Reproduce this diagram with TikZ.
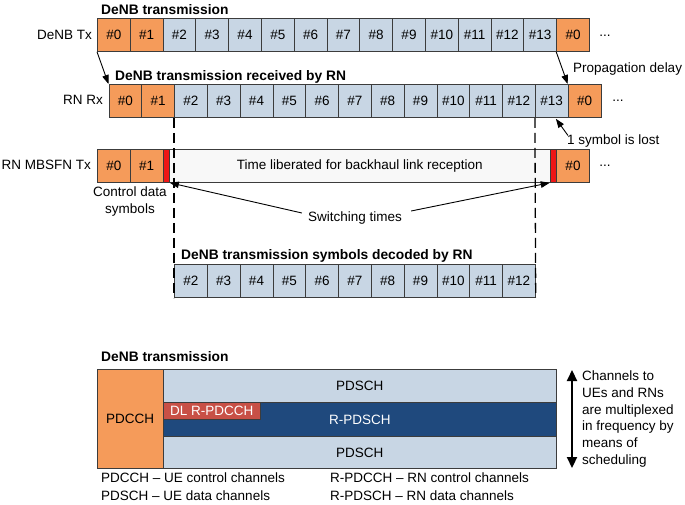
\documentclass[tikz,border=0pt]{standalone}
\usepackage{fontspec}
\setmainfont{Liberation Sans}
\usetikzlibrary{arrows.meta,calc}
\definecolor{corange}{RGB}{245,155,90}
\definecolor{cblue}{RGB}{200,214,228}
\definecolor{cdark}{RGB}{31,73,125}
\definecolor{cred}{RGB}{238,22,22}
\definecolor{cdlred}{RGB}{200,80,70}
\definecolor{cwhite}{RGB}{248,248,248}
\definecolor{cborder}{RGB}{60,60,60}
\begin{document}
\begin{tikzpicture}[x=1pt,y=-1pt,
  every node/.style={font=\fontsize{13.5}{16.8}\selectfont, inner sep=0pt},
  cell/.style={draw=cborder, line width=0.8pt, minimum width=32.8pt, minimum height=33pt, anchor=north west},
  bar/.style={draw=cborder, line width=0.8pt, anchor=north west, minimum height=33pt},
  title/.style={font=\fontsize{13.8}{16.8}\selectfont\bfseries, anchor=west},
  lbl/.style={anchor=east},
  dashline/.style={line width=1.3pt, dash pattern=on 10pt off 5pt},
  arr/.style={-{Triangle[length=9pt,width=6.5pt]}, line width=0.9pt},
  band/.style={draw=cborder, line width=0.8pt, anchor=north west, minimum width=393.6pt}]
\useasboundingbox (0,0) rectangle (685,504);

% titles and row labels
\node[title] (t1) at (101,10) {DeNB transmission};
\node[title] (t2) at (115,76.5) {DeNB transmission received by RN};
\node[title] (t3) at (181,256) {DeNB transmission symbols decoded by RN};
\node[lbl] (l1) at (92,35) {DeNB Tx};
\node[lbl] (l2) at (103,100) {RN Rx};
\node[lbl] (l3) at (91,165) {RN MBSFN Tx};

% DeNB Tx row
\foreach \l [count=\i from 0] in {0,1,2,3,4,5,6,7,8,9,10,11,12,13,0} {
  \ifnum\i<2 \def\cf{corange}\else\ifnum\i=14 \def\cf{corange}\else\def\cf{cblue}\fi\fi
  \node[cell, fill=\cf] (tx\i) at ({97+\i*32.8},18) {\#\l};
}
% RN Rx row
\foreach \l [count=\i from 0] in {0,1,2,3,4,5,6,7,8,9,10,11,12,13,0} {
  \ifnum\i<2 \def\cf{corange}\else\ifnum\i=14 \def\cf{corange}\else\def\cf{cblue}\fi\fi
  \node[cell, fill=\cf] (rx\i) at ({108.5+\i*32.8},84) {\#\l};
}
\node (d1) at (605,36) {...};
\node (d2) at (618,101) {...};

% RN MBSFN Tx row
\node[cell, fill=corange] (mb0) at (97,149) {\#0};
\node[cell, fill=corange] (mb1) at (129.8,149) {\#1};
\node[bar, fill=cred, minimum width=6.5pt] (rs1) at (162.6,149) {};
\node[bar, fill=cwhite, minimum width=380.6pt] (wb) at (169.1,149) {Time liberated for backhaul link reception};
\node[bar, fill=cred, minimum width=6.5pt] (rs2) at (549.7,149) {};
\node[cell, fill=corange] (mb2) at (556.2,149) {\#0};
\node (d3) at (605,166) {...};

% decoded symbols
\foreach \l in {2,...,12} {
  \node[cell, fill=cblue] (dec\l) at ({108.5+\l*32.8},264) {\#\l};
}

% dashed lines
\draw[dashline] (rx2.south west) -- (dec2.south west);
\draw[dashline] (rx13.south west) -- (dec12.south east);

% propagation delay
\draw[arr] (tx0.south west) -- (rx0.north west);
\draw[arr] (tx14.south west) -- (rx14.north west);
\node[anchor=west] (pd) at (573,69) {Propagation delay};

% symbol lost
\node[anchor=west] (lost) at (567,141) {1 symbol is lost};
\coordinate (lostTip) at ($(rx13.south west)+(21,1)$);
\draw[arr] ($(lost.north west)+(1,1)$) -- (lostTip);

% control data symbols
\node[align=center] (cds) at (130,201.5) {Control data\\symbols};

% switching times
\node (sw) at (355,218) {Switching times};
\draw[arr] ($(sw.west)+(-6,-5)$) -- (rs1.south east);
\draw[arr] ($(sw.east)+(9,-7)$) -- (rs2.south west);

% bottom section
\node[title] (t4) at (101,357) {DeNB transmission};
\node[band, fill=cblue, minimum height=33pt] (ps1) at (162.6,369) {PDSCH};
\node[band, fill=cdark, minimum height=34pt, text=white] (rps) at (162.6,402) {R-PDSCH};
\node[band, fill=cblue, minimum height=32pt] (ps2) at (162.6,436) {PDSCH};
\node[draw=cborder, line width=0.8pt, fill=corange, anchor=north west, minimum width=65.6pt, minimum height=99pt] (pdcch) at (97,369) {PDCCH};
\node[draw=cborder, line width=0.8pt, fill=cdlred, anchor=north west, minimum width=97.4pt, minimum height=17pt, text=white] (rpdcch) at (162.6,402) {DL R-PDCCH};

\node[anchor=west] (lg1) at (101,478) {PDCCH -- UE control channels};
\node[anchor=west] (lg2) at (101,495.5) {PDSCH -- UE data channels};
\node[anchor=west] (lg3) at (330,478) {R-PDCCH -- RN control channels};
\node[anchor=west] (lg4) at (330,495.5) {R-PDSCH -- RN data channels};

\coordinate (dtop) at (572,370);
\coordinate (dbot) at (572,468);
\draw[line width=2.2pt, {Triangle[length=11pt,width=10pt]}-{Triangle[length=11pt,width=10pt]}] (dtop) -- (dbot);
\node[anchor=west, align=left] (mux) at (582,419) {Channels to\\UEs and RNs\\are multiplexed\\in frequency by\\means of\\scheduling};
\end{tikzpicture}
\end{document}
